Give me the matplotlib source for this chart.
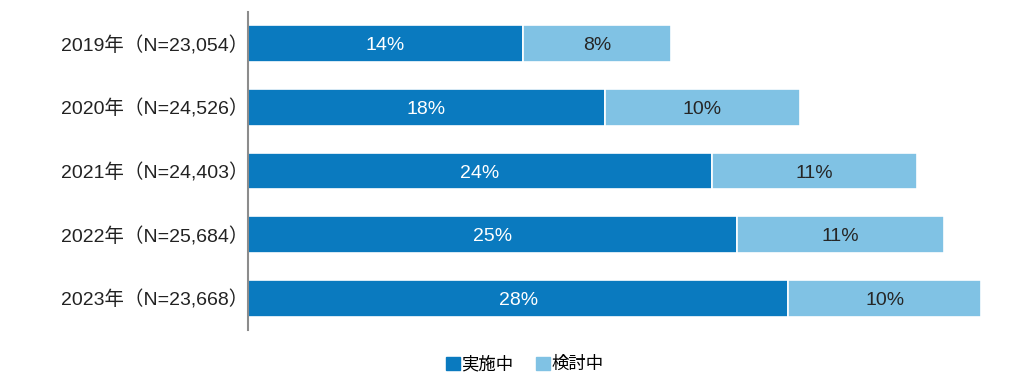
import matplotlib
matplotlib.use('Agg')
import matplotlib.pyplot as plt
from matplotlib.patches import Patch

# データ
years = ['2019年（N=23,054）', '2020年（N=24,526）', '2021年（N=24,403）',
         '2022年（N=25,684）', '2023年（N=23,668）']
jisshi = [14.1, 18.3, 23.8, 25.1, 27.7]    # 実施中
kentou = [7.6, 10.0, 10.5, 10.6, 9.9]      # 検討中
jisshi_labels = ['14%', '18%', '24%', '25%', '28%']
kentou_labels = ['8%', '10%', '11%', '11%', '10%']

C_DARK = '#0a7abf'
C_LIGHT = '#80c2e4'
FONT = ['Liberation Sans', 'Noto Sans CJK JP', 'DejaVu Sans']
FS = 14

plt.rcParams['font.family'] = FONT

fig = plt.figure(figsize=(10.3, 3.92), dpi=100)
ax = fig.add_axes([248 / 1030, 1 - 330 / 392, 780 / 1030, 318 / 392])

y = list(range(len(years)))
ax.barh(y, jisshi, height=0.58, color=C_DARK, edgecolor='white', linewidth=1.2)
ax.barh(y, kentou, left=jisshi, height=0.58, color=C_LIGHT,
        edgecolor='white', linewidth=1.2)

for i in y:
    ax.text(jisshi[i] / 2, i, jisshi_labels[i], ha='center',
            va='center_baseline', color='white', fontsize=FS)
    ax.text(jisshi[i] + kentou[i] / 2, i, kentou_labels[i], ha='center',
            va='center_baseline', color='#262626', fontsize=FS)

ax.set_xlim(0, 40)
ax.set_ylim(4.5, -0.5)
ax.set_yticks(y)
ax.set_yticklabels(years, fontsize=FS, color='#222222')
ax.tick_params(axis='y', length=0, pad=0)
ax.set_xticks([])
for side in ['top', 'right', 'bottom']:
    ax.spines[side].set_visible(False)
ax.spines['left'].set_color('#8c8c8c')
ax.spines['left'].set_linewidth(1.5)

handles = [Patch(color=C_DARK, label='実施中'), Patch(color=C_LIGHT, label='検討中')]
fig.legend(handles=handles, loc='center', bbox_to_anchor=(525 / 1030, 1 - 364 / 392),
           ncol=2, frameon=False, fontsize=12.5, handlelength=0.8,
           handleheight=0.8, handletextpad=0.1, columnspacing=1.3)

plt.savefig('out.png', dpi=100)
